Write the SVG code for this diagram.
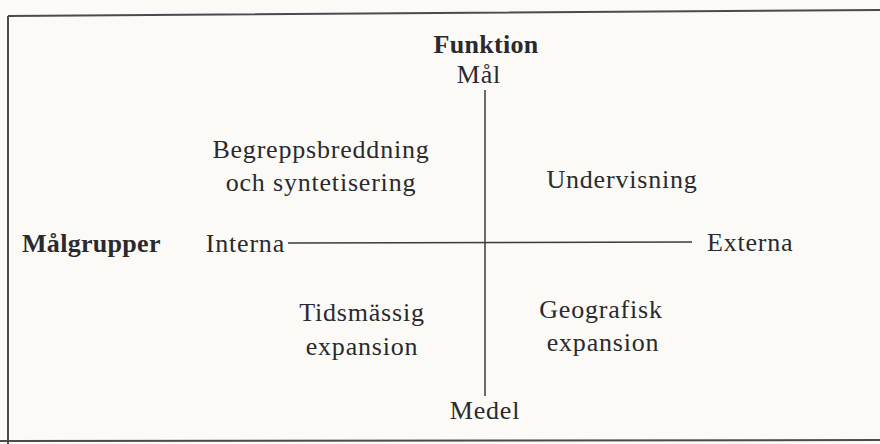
<svg xmlns="http://www.w3.org/2000/svg" width="880" height="444" viewBox="0 0 880 444">
<style>
.t{font-family:"Liberation Serif",serif;font-size:26px;fill:#2a2a2e;text-anchor:middle;letter-spacing:0.8px}
.b{font-weight:bold;letter-spacing:0.3px}
.ax{stroke:#3a3a40;stroke-width:1.5;fill:none}
</style>
<rect width="880" height="444" fill="#fbfaf6"/>
<path d="M8 16 L880 10 M8 16 L8 444 M0 441 L880 440" stroke="#4a4a50" stroke-width="2" fill="none"/>
<g id="connectors">
<line class="ax" x1="485" y1="90" x2="485" y2="396"/>
<line class="ax" x1="288" y1="243" x2="692" y2="242"/>
</g>
<g id="funktion"><text class="t b" x="486" y="53">Funktion</text></g>
<g id="mal"><text class="t" x="479" y="83">Mål</text></g>
<g id="begrepp"><text class="t" x="321" y="158">Begreppsbreddning</text><text class="t" x="321" y="191">och syntetisering</text></g>
<g id="undervisning"><text class="t" x="622" y="188">Undervisning</text></g>
<g id="malgrupper"><text class="t b" x="22" y="252" style="text-anchor:start">Målgrupper</text></g>
<g id="interna"><text class="t" x="285" y="252" style="text-anchor:end">Interna</text></g>
<g id="externa"><text class="t" x="707" y="251" style="text-anchor:start">Externa</text></g>
<g id="tids"><text class="t" x="362" y="321">Tidsmässig</text><text class="t" x="362" y="355">expansion</text></g>
<g id="geo"><text class="t" x="601" y="318">Geografisk</text><text class="t" x="603" y="351">expansion</text></g>
<g id="medel"><text class="t" x="485" y="419">Medel</text></g>
</svg>
